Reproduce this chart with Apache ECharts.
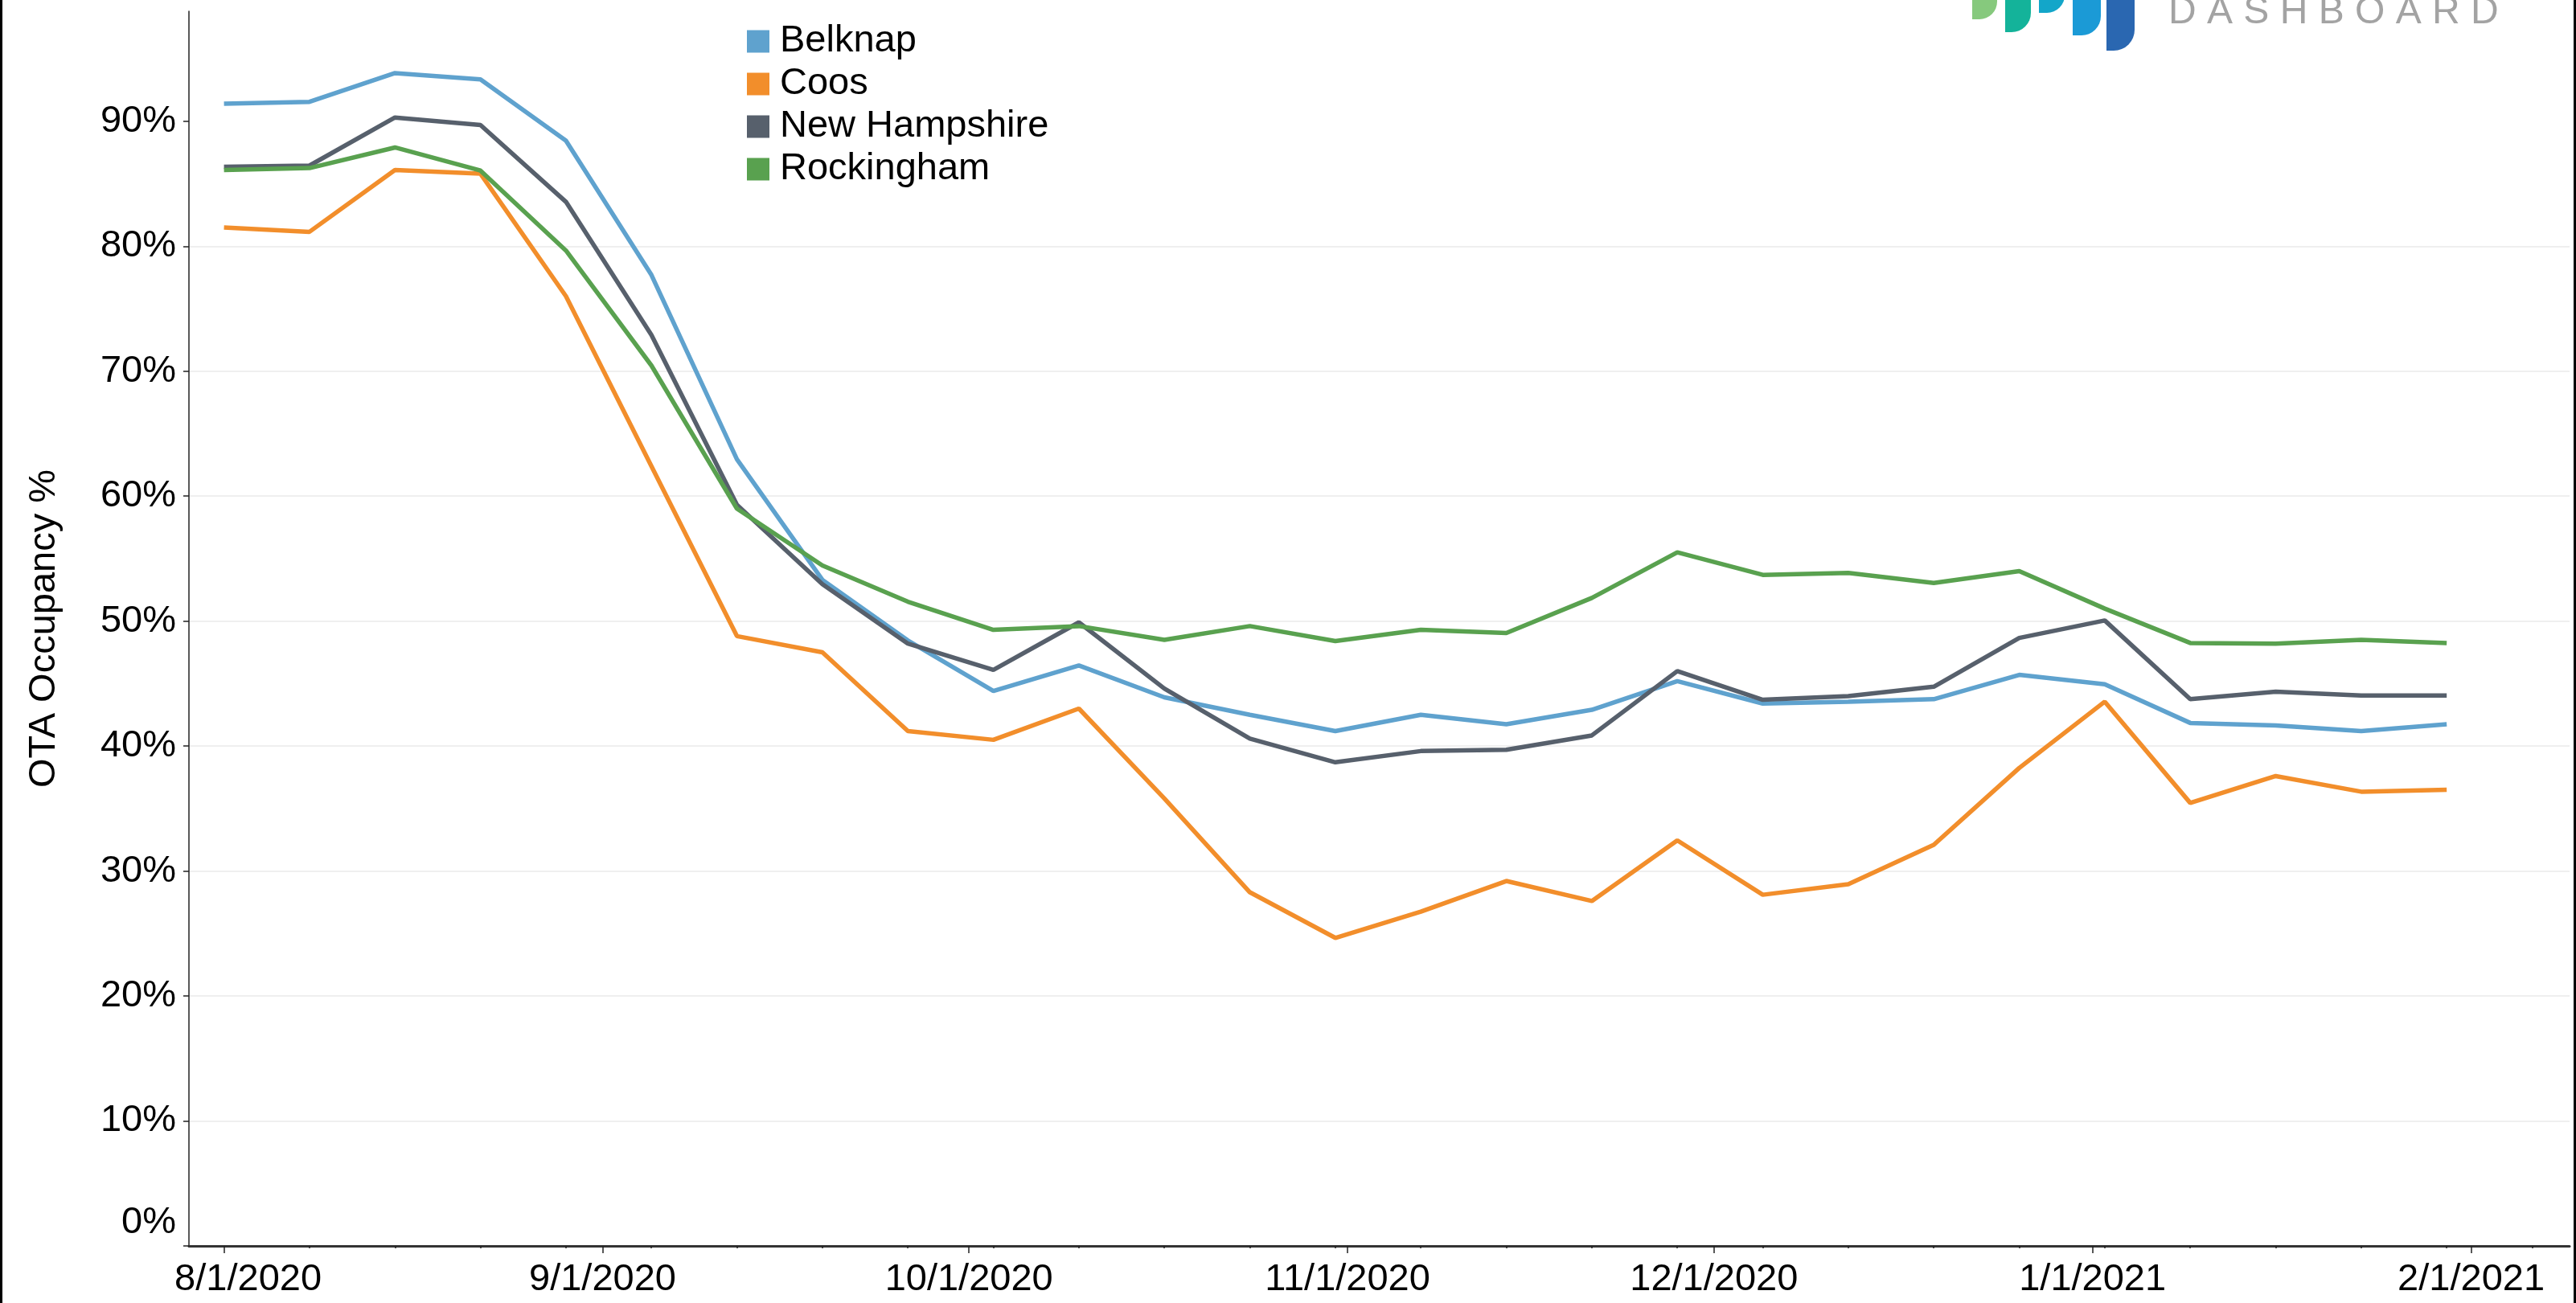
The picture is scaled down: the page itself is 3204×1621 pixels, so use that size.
<!DOCTYPE html>
<html>
<head>
<meta charset="utf-8">
<title>OTA Occupancy</title>
<script src="https://cdn.jsdelivr.net/npm/echarts@6.0.0/dist/echarts.min.js"></script>
<style>
html, body { margin: 0; padding: 0; background: #fff; }
#chart { width: 3204px; height: 1621px; }
</style>
</head>
<body>
<div id="chart"></div>
<script>
// weekly points (week starting Saturday)
const weekDates = [
  '2020-08-01', '2020-08-08', '2020-08-15', '2020-08-22', '2020-08-29',
  '2020-09-05', '2020-09-12', '2020-09-19', '2020-09-26', '2020-10-03',
  '2020-10-10', '2020-10-17', '2020-10-24', '2020-10-31', '2020-11-07',
  '2020-11-14', '2020-11-21', '2020-11-28', '2020-12-05', '2020-12-12',
  '2020-12-19', '2020-12-26', '2021-01-02', '2021-01-09', '2021-01-16',
  '2021-01-23', '2021-01-30'
];

// OTA occupancy %
const belknap = [91.4, 91.55, 93.85, 93.35, 88.45, 77.7, 62.95, 53.3, 48.45, 44.4,
  46.45, 43.9, 42.5, 41.2, 42.5, 41.75, 42.9, 45.2, 43.4, 43.55,
  43.75, 45.7, 44.95, 41.85, 41.65, 41.2, 41.75];
const coos = [81.5, 81.15, 86.1, 85.8, 76.0, 62.4, 48.8, 47.5, 41.2, 40.5,
  43.0, 35.8, 28.3, 24.65, 26.75, 29.2, 27.6, 32.45, 28.1, 28.95,
  32.1, 38.25, 43.55, 35.45, 37.6, 36.35, 36.5];
const newHampshire = [86.35, 86.45, 90.3, 89.7, 83.55, 72.9, 59.3, 52.95, 48.2, 46.1,
  49.9, 44.6, 40.6, 38.7, 39.6, 39.7, 40.85, 46.0, 43.7, 44.0,
  44.75, 48.65, 50.05, 43.75, 44.35, 44.05, 44.05];
const rockingham = [86.1, 86.25, 87.9, 86.05, 79.65, 70.45, 59.0, 54.45, 51.55, 49.3,
  49.6, 48.5, 49.6, 48.4, 49.3, 49.05, 51.85, 55.5, 53.7, 53.85,
  53.05, 54.0, 51.0, 48.25, 48.2, 48.5, 48.25];

// axis ticks
const monthTicks = ['2020-08-01', '2020-09-01', '2020-10-01', '2020-11-01',
  '2020-12-01', '2021-01-01', '2021-02-01'];
const weekTicks = weekDates.concat(['2021-02-06']);
const yTicks = [0, 10, 20, 30, 40, 50, 60, 70, 80, 90];

const FONT = '"Liberation Sans", Arial, sans-serif';
const DAY = 86400000;

function toTime(s) {
  const p = s.split('-').map(Number);
  return new Date(p[0], p[1] - 1, p[2]).getTime();
}
function fmtDate(v) {
  const d = new Date(v);
  return (d.getMonth() + 1) + '/' + d.getDate() + '/' + d.getFullYear();
}

const xMin = toTime('2020-08-01') - 2.87 * DAY;
const xMax = toTime('2020-08-01') + 192.06 * DAY;
const firstMonth = toTime(monthTicks[0]);

function makeSeries(name, values, color) {
  return {
    name: name,
    type: 'line',
    showSymbol: false,
    symbol: 'none',
    lineStyle: { width: 5.5, color: color },
    itemStyle: { color: color },
    data: weekDates.map((d, i) => [toTime(d), values[i]])
  };
}

const chart = echarts.init(document.getElementById('chart'));

const option = {
  animation: false,
  backgroundColor: '#fff',
  grid: { left: 235, right: 8, top: 14, bottom: 71, outerBoundsMode: 'none' },
  legend: {
    orient: 'vertical',
    left: 924,
    top: 23,
    icon: 'rect',
    itemWidth: 28,
    itemHeight: 28,
    itemGap: 6,
    textStyle: { fontSize: 47, color: '#000', lineHeight: 46, padding: [0, 0, 0, 8], fontFamily: FONT },
    data: ['Belknap', 'Coos', 'New Hampshire', 'Rockingham']
  },
  xAxis: [
    {
      type: 'value',
      min: xMin,
      max: xMax,
      axisLine: { show: true, lineStyle: { color: '#333', width: 3 } },
      axisTick: {
        show: true, length: 9,
        customValues: monthTicks.map(toTime),
        lineStyle: { color: '#222', width: 1.5 }
      },
      axisLabel: {
        customValues: monthTicks.map(toTime),
        margin: 19,
        fontSize: 47,
        color: '#000',
        fontFamily: FONT,
        formatter: function (v) {
          const s = fmtDate(v);
          return v === firstMonth ? '{f|' + s + '}' : s;
        },
        rich: {
          f: { fontSize: 47, color: '#000', fontFamily: FONT, padding: [0, 0, 0, 60] }
        }
      },
      splitLine: { show: false }
    },
    {
      // weekly minor ticks
      type: 'value',
      min: xMin,
      max: xMax,
      position: 'bottom',
      axisLine: { show: false },
      axisLabel: { show: false },
      axisTick: {
        show: true, length: 3,
        customValues: weekTicks.map(toTime),
        lineStyle: { color: '#222', width: 1.5 }
      },
      splitLine: { show: false }
    }
  ],
  yAxis: {
    type: 'value',
    min: 0,
    max: 98.8,
    interval: 10,
    name: 'OTA Occupancy %',
    nameLocation: 'middle',
    nameGap: 156,
    nameTextStyle: { fontSize: 47, color: '#000', fontFamily: FONT },
    axisLine: { show: true, lineStyle: { color: '#222', width: 1.5 } },
    axisTick: { show: true, length: 7, customValues: yTicks, lineStyle: { color: '#222', width: 1.5 } },
    axisLabel: {
      customValues: yTicks,
      margin: 16,
      fontSize: 47,
      color: '#000',
      fontFamily: FONT,
      formatter: function (v) {
        return v === 0 ? '{z|0%}' : v + '%';
      },
      rich: {
        z: { fontSize: 47, color: '#000', fontFamily: FONT, padding: [0, 0, 57, 0] }
      }
    },
    splitLine: { show: true, showMaxLine: false, lineStyle: { color: '#efefef', width: 2 } }
  },
  series: [
    makeSeries('Belknap', belknap, '#5fa2ce'),
    makeSeries('Coos', coos, '#f28e2b'),
    makeSeries('New Hampshire', newHampshire, '#57606c'),
    makeSeries('Rockingham', rockingham, '#59a14f')
  ],
  graphic: [
    // frame edges
    { type: 'rect', shape: { x: 0, y: 0, width: 3, height: 1621 }, style: { fill: '#000' } },
    { type: 'rect', shape: { x: 3201, y: 0, width: 3, height: 1621 }, style: { fill: '#000' } },
    // logo (cut off at the top)
    { type: 'rect', shape: { x: 2453, y: -30, width: 31, height: 54, r: [0, 0, 22, 0] }, style: { fill: '#86c97d' } },
    { type: 'rect', shape: { x: 2494, y: -30, width: 32, height: 70, r: [0, 0, 24, 0] }, style: { fill: '#14b39a' } },
    { type: 'rect', shape: { x: 2536, y: -30, width: 32, height: 46, r: [0, 0, 22, 0] }, style: { fill: '#13a6c9' } },
    { type: 'rect', shape: { x: 2578, y: -30, width: 35, height: 74, r: [0, 0, 24, 0] }, style: { fill: '#1b9ad6' } },
    { type: 'rect', shape: { x: 2620, y: -30, width: 35, height: 93, r: [0, 0, 26, 0] }, style: { fill: '#2a67b1' } },
    {
      type: 'text', x: 2697, y: 16,
      style: {
        text: 'D A S H B O A R D', fill: '#a3a3a3',
        font: '48px "Liberation Sans", Arial, sans-serif',
        verticalAlign: 'middle', align: 'left'
      }
    }
  ]
};

chart.setOption(option);
window.addEventListener('resize', function () { chart.resize(); });
</script>
</body>
</html>
